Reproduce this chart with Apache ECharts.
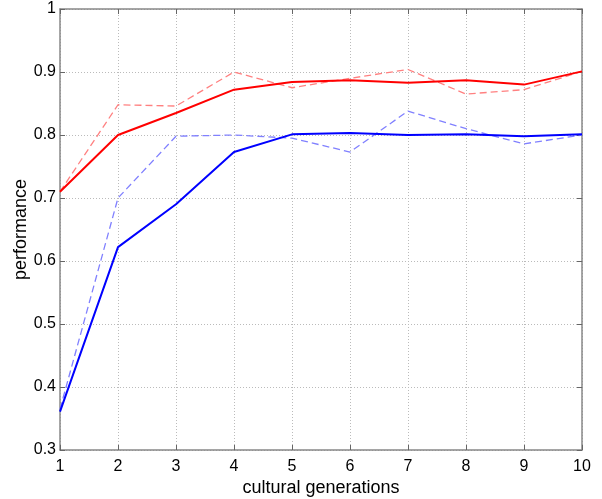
<!DOCTYPE html>
<html><head><meta charset="utf-8">
<script src="https://cdn.jsdelivr.net/npm/echarts@6/dist/echarts.min.js"></script>
<style>html,body{margin:0;padding:0;background:#fff}#c{width:602px;height:499px}</style>
</head><body><div id="c"></div>
<script>
const generations = [1,2,3,4,5,6,7,8,9,10];
const redSolid   = [0.710,0.800,0.835,0.872,0.884,0.887,0.883,0.887,0.880,0.901];
const redDashed  = [0.710,0.848,0.846,0.900,0.875,0.890,0.904,0.865,0.872,0.901];
const blueSolid  = [0.361,0.622,0.690,0.773,0.801,0.803,0.800,0.801,0.798,0.801];
const blueDashed = [0.365,0.700,0.798,0.800,0.795,0.773,0.838,0.810,0.786,0.800];

const pairs = v => generations.map((g,i)=>[g,v[i]]);
const font = 'Liberation Sans, Arial, Helvetica, sans-serif';
const axisLine = {show:true, lineStyle:{color:'#888', width:1.5}};
const chart = echarts.init(document.getElementById('c'));
chart.setOption({
  animation:false,
  grid:{left:60, right:20, top:9, bottom:49, containLabel:false, outerBoundsMode:'none'},
  xAxis:[{
    type:'value', min:1, max:10, interval:1,
    name:'cultural generations', nameLocation:'middle', nameGap:29, nameMoveOverlap:false,
    nameTextStyle:{fontFamily:font, fontSize:18, color:'#000'},
    axisLine:axisLine, axisTick:{show:true, inside:true, length:5, lineStyle:{color:'#666'}},
    axisLabel:{fontFamily:font, fontSize:16, color:'#000', margin:9},
    splitLine:{show:true, lineStyle:{color:'#bbb', type:[1,2], width:1}}
  },{
    type:'value', position:'top', min:1, max:10, interval:1,
    axisLine:axisLine, axisTick:{show:true, inside:true, length:5, lineStyle:{color:'#666'}},
    axisLabel:{show:false}, splitLine:{show:false}
  }],
  yAxis:[{
    type:'value', min:0.3, max:1, interval:0.1,
    name:'performance', nameLocation:'middle', nameGap:30, nameRotate:90, nameMoveOverlap:false,
    nameTextStyle:{fontFamily:font, fontSize:18, color:'#000'},
    axisLine:axisLine, axisTick:{show:true, inside:true, length:5, lineStyle:{color:'#666'}},
    axisLabel:{fontFamily:font, fontSize:16, color:'#000', margin:4,
      formatter:v=>(+v.toFixed(1)).toString()},
    splitLine:{show:true, lineStyle:{color:'#bbb', type:[1,2], width:1}}
  },{
    type:'value', position:'right', min:0.3, max:1, interval:0.1,
    axisLine:axisLine, axisTick:{show:true, inside:true, length:5, lineStyle:{color:'#666'}},
    axisLabel:{show:false}, splitLine:{show:false}
  }],
  series:[
    {type:'line', data:pairs(redDashed), symbol:'none', lineStyle:{color:'#ff8080', width:1.3, type:[7,4]}},
    {type:'line', data:pairs(blueDashed), symbol:'none', lineStyle:{color:'#8080ff', width:1.3, type:[7,4]}},
    {type:'line', data:pairs(redSolid), symbol:'none', lineStyle:{color:'#ff0000', width:2}},
    {type:'line', data:pairs(blueSolid), symbol:'none', lineStyle:{color:'#0000ff', width:2}}
  ]
});
</script></body></html>
